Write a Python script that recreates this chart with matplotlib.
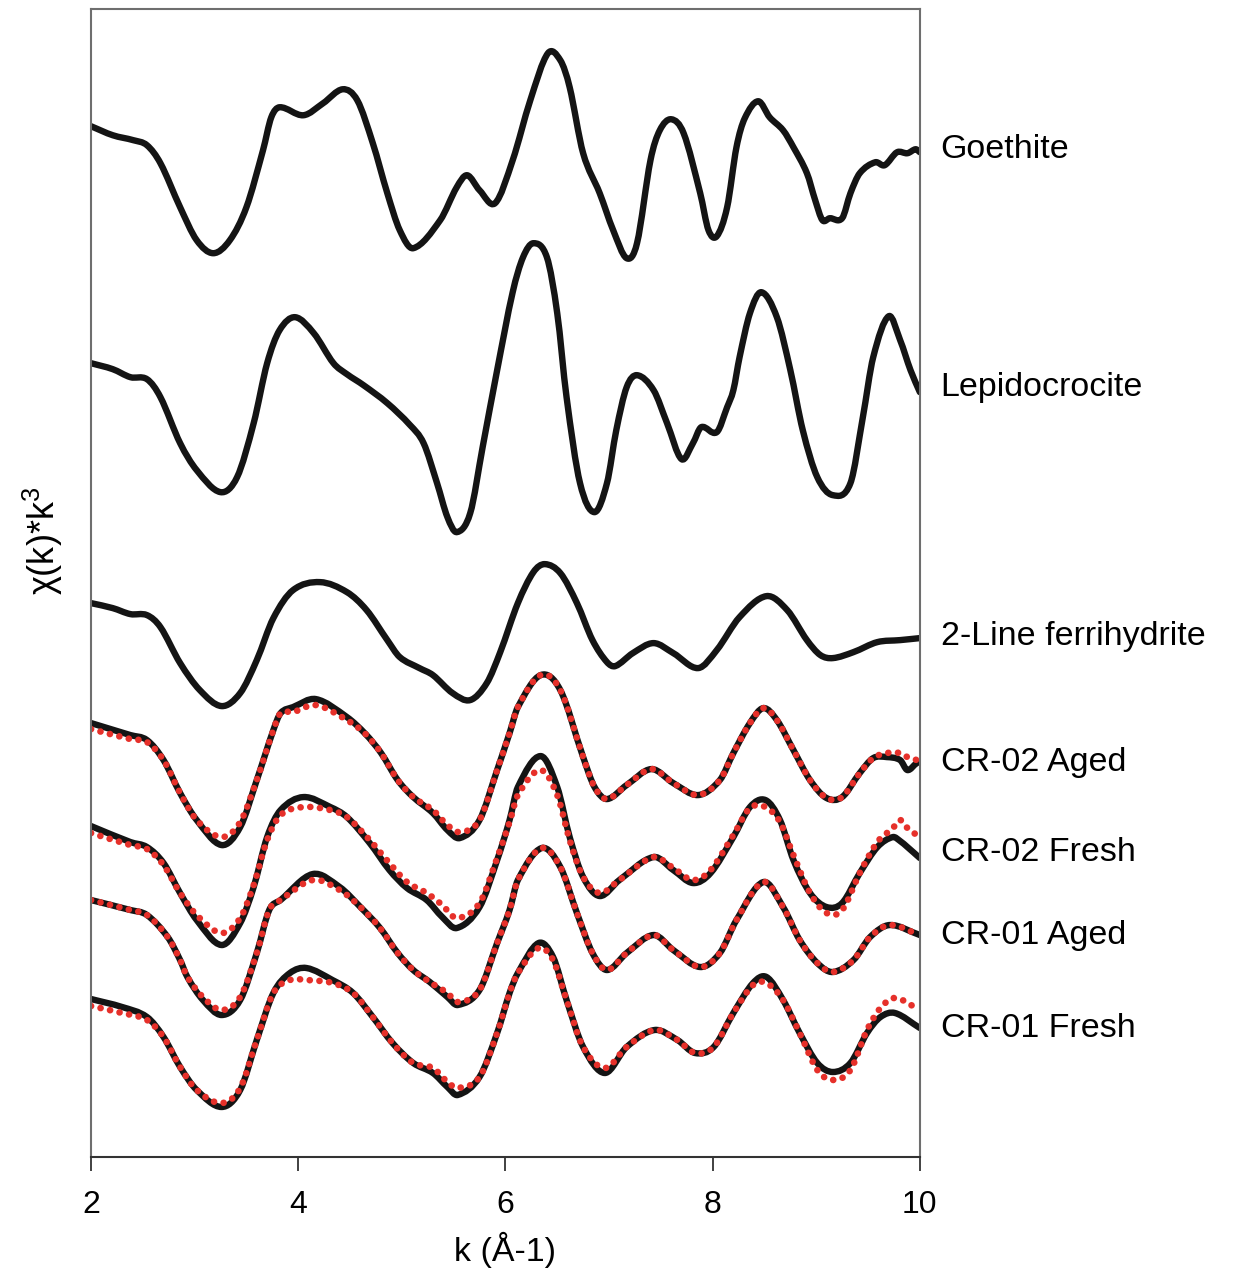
"""EXAFS chi(k)*k^3 spectra of Fe oxide references and CR samples with fits (stacked)."""

import matplotlib

matplotlib.use("Agg")
import matplotlib.pyplot as plt
from matplotlib.path import Path
from matplotlib.patches import PathPatch

plt.rcParams["font.family"] = ["Liberation Sans", "DejaVu Sans"]
plt.rcParams["mathtext.fontset"] = "custom"
plt.rcParams["mathtext.rm"] = "Liberation Sans"

# ── data (stacked chi(k)*k^3, arbitrary units with vertical offsets) ─────────

goethite_k = [2.00, 2.21, 2.41, 2.54, 2.67, 2.86, 3.02, 3.18, 3.34, 3.50, 3.66, 3.74,
              3.82, 4.05, 4.24, 4.43, 4.57, 4.72, 4.86, 4.98, 5.11, 5.37, 5.53, 5.63,
              5.75, 5.90, 6.07, 6.24, 6.41, 6.53, 6.62, 6.75, 6.91, 7.04, 7.17, 7.27,
              7.40, 7.49, 7.60, 7.72, 7.88, 7.96, 8.04, 8.14, 8.23, 8.31, 8.44, 8.55,
              8.68, 8.78, 8.91, 8.99, 9.06, 9.13, 9.25, 9.33, 9.42, 9.57, 9.66, 9.78,
              9.88, 9.96, 10.00]
goethite_y = [1031, 1022, 1017, 1012, 994, 950, 917, 904, 917, 950, 1007, 1040,
              1050, 1042, 1054, 1068, 1057, 1014, 964, 927, 909, 937, 970, 982,
              967, 954, 997, 1057, 1104, 1097, 1070, 1004, 964, 927, 899, 914,
              997, 1027, 1038, 1024, 964, 927, 921, 950, 1010, 1039, 1056, 1040,
              1027, 1010, 984, 957, 937, 939, 939, 964, 984, 995, 992, 1005,
              1004, 1008, 1005]

lepido_k = [2.00, 2.21, 2.38, 2.54, 2.67, 2.86, 3.02, 3.25, 3.41, 3.57, 3.70, 3.82,
            3.97, 4.15, 4.34, 4.47, 4.63, 4.86, 5.08, 5.21, 5.34, 5.44, 5.53, 5.66,
            5.78, 5.92, 6.07, 6.17, 6.27, 6.40, 6.50, 6.59, 6.72, 6.86, 6.98, 7.07,
            7.17, 7.27, 7.43, 7.56, 7.70, 7.81, 7.89, 8.04, 8.14, 8.20, 8.26, 8.36,
            8.47, 8.62, 8.75, 8.87, 9.01, 9.16, 9.33, 9.45, 9.55, 9.70, 9.81, 9.91,
            10.00]
lepido_y = [794, 788, 780, 778, 760, 714, 687, 665, 680, 734, 794, 827,
            840, 824, 794, 783, 772, 754, 732, 714, 674, 640, 625, 644,
            710, 787, 865, 900, 914, 900, 844, 760, 674, 645, 674, 727,
            770, 782, 767, 734, 698, 714, 730, 725, 750, 767, 800, 844,
            865, 840, 787, 727, 680, 662, 674, 740, 800, 841, 817, 787,
            765]

ferri_k = [2.00, 2.21, 2.38, 2.54, 2.67, 2.86, 3.05, 3.26, 3.44, 3.60, 3.76, 3.95,
           4.21, 4.47, 4.66, 4.86, 4.98, 5.17, 5.30, 5.49, 5.66, 5.82, 5.95, 6.12,
           6.27, 6.38, 6.53, 6.69, 6.84, 6.98, 7.06, 7.23, 7.43, 7.62, 7.86, 8.04,
           8.26, 8.52, 8.72, 8.91, 9.04, 9.16, 9.36, 9.59, 9.81, 10.00]
ferri_y = [554, 549, 543, 542, 530, 494, 467, 451, 464, 497, 539, 567,
           575, 565, 547, 517, 500, 489, 482, 464, 457, 474, 505, 554,
           585, 593, 584, 554, 517, 495, 491, 504, 514, 504, 489, 507,
           540, 561, 547, 517, 502, 499, 505, 515, 517, 519]

cr02a_k = [2.00, 2.38, 2.54, 2.70, 2.86, 3.02, 3.26, 3.44, 3.60, 3.76, 3.83, 3.95,
           4.17, 4.47, 4.65, 4.80, 4.96, 5.11, 5.30, 5.44, 5.56, 5.75, 5.92, 6.04,
           6.12, 6.34, 6.53, 6.75, 6.86, 6.98, 7.17, 7.41, 7.62, 7.86, 8.07, 8.20,
           8.36, 8.49, 8.62, 8.78, 8.94, 9.10, 9.25, 9.42, 9.55, 9.68, 9.81, 9.88,
           9.97, 10.00]
cr02a_data = [434, 422, 417, 397, 364, 337, 312, 330, 377, 427, 444, 450,
              458, 440, 423, 404, 377, 360, 344, 327, 319, 337, 387, 424,
              450, 482, 467, 400, 370, 358, 372, 388, 374, 362, 377, 404,
              434, 449, 437, 407, 377, 359, 360, 384, 399, 400, 397, 387,
              394, 395]
cr02a_fit = [428, 418, 415, 397, 364, 337, 320, 335, 377, 427, 444, 445,
             452, 437, 423, 404, 377, 360, 347, 332, 325, 337, 387, 424,
             450, 482, 467, 400, 370, 358, 372, 388, 374, 362, 377, 404,
             434, 449, 437, 407, 377, 359, 360, 384, 399, 404, 404, 400,
             397, 395]

cr02f_k = [2.00, 2.38, 2.54, 2.70, 2.86, 3.02, 3.26, 3.44, 3.57, 3.70, 3.83, 4.05,
           4.31, 4.47, 4.69, 4.88, 5.05, 5.24, 5.39, 5.53, 5.75, 5.92, 6.04, 6.12,
           6.34, 6.50, 6.62, 6.75, 6.91, 7.10, 7.43, 7.62, 7.81, 7.98, 8.20, 8.36,
           8.51, 8.65, 8.78, 8.94, 9.10, 9.25, 9.42, 9.59, 9.74, 9.81, 9.88, 10.00]
cr02f_data = [331, 315, 310, 294, 264, 237, 212, 234, 270, 320, 347, 360,
              350, 340, 314, 287, 269, 257, 240, 229, 250, 297, 337, 370,
              401, 370, 320, 280, 261, 277, 300, 287, 274, 284, 320, 350,
              357, 337, 297, 264, 250, 254, 284, 310, 320, 316, 310, 299]
cr02f_fit = [324, 312, 308, 292, 264, 242, 224, 239, 272, 317, 342, 350,
             347, 340, 317, 294, 275, 264, 252, 239, 254, 299, 335, 362,
             387, 362, 317, 280, 264, 277, 300, 289, 277, 287, 322, 349,
             350, 335, 302, 264, 244, 247, 284, 315, 329, 337, 329, 320]

cr01a_k = [2.00, 2.38, 2.54, 2.74, 2.86, 2.93, 3.08, 3.26, 3.44, 3.60, 3.72, 3.83,
           4.14, 4.40, 4.60, 4.79, 4.96, 5.11, 5.27, 5.44, 5.54, 5.75, 5.92, 6.04,
           6.12, 6.35, 6.53, 6.69, 6.84, 6.98, 7.17, 7.43, 7.62, 7.88, 8.07, 8.23,
           8.49, 8.68, 8.84, 9.01, 9.16, 9.36, 9.52, 9.71, 10.00]
cr01a_data = [257, 247, 242, 220, 197, 180, 157, 142, 157, 204, 247, 257,
              283, 270, 250, 229, 204, 187, 175, 160, 152, 167, 214, 247,
              277, 309, 290, 244, 204, 187, 204, 222, 207, 190, 204, 237,
              275, 250, 217, 194, 185, 197, 220, 232, 222]
cr01a_fit = [257, 247, 242, 220, 197, 180, 160, 147, 160, 204, 247, 257,
             277, 267, 250, 229, 204, 187, 175, 164, 155, 167, 214, 247,
             277, 309, 290, 244, 204, 187, 204, 222, 207, 190, 204, 237,
             275, 250, 217, 194, 185, 197, 220, 232, 222]

cr01f_k = [2.00, 2.30, 2.54, 2.70, 2.86, 3.02, 3.26, 3.44, 3.60, 3.76, 3.92, 4.08,
           4.33, 4.53, 4.72, 4.91, 5.11, 5.30, 5.44, 5.54, 5.75, 5.92, 6.04, 6.12,
           6.32, 6.46, 6.59, 6.75, 6.96, 7.17, 7.44, 7.66, 7.83, 8.01, 8.20, 8.39,
           8.52, 8.68, 8.84, 9.01, 9.16, 9.33, 9.49, 9.62, 9.76, 10.00]
cr01f_data = [158, 150, 140, 120, 90, 67, 50, 67, 117, 164, 184, 189,
              177, 164, 140, 114, 94, 84, 70, 62, 80, 124, 164, 184,
              214, 200, 157, 110, 84, 110, 127, 117, 104, 110, 144, 174,
              180, 157, 124, 94, 85, 94, 124, 140, 144, 129]
cr01f_fit = [151, 144, 137, 120, 90, 67, 54, 69, 117, 164, 177, 177,
             174, 164, 140, 114, 94, 89, 75, 69, 80, 124, 164, 184,
             209, 197, 157, 110, 89, 110, 127, 117, 104, 110, 144, 172,
             174, 157, 124, 87, 77, 87, 127, 149, 159, 147]

labels = ["Goethite", "Lepidocrocite", "2-Line ferrihydrite",
          "CR-02 Aged", "CR-02 Fresh", "CR-01 Aged", "CR-01 Fresh"]
label_y = [1008, 770, 521, 395, 305, 222, 129]

x_ticks = [2, 4, 6, 8, 10]

BLACK = "#141414"
RED = "#e6302a"
SPINE = "#6e6e6e"


def smooth_path(k, y):
    """Hermite-style Bezier path through the measured points (no new data)."""
    n = len(k)
    slopes = []
    for i in range(n):
        a, b = max(i - 1, 0), min(i + 1, n - 1)
        slopes.append((y[b] - y[a]) / (k[b] - k[a]))
    verts = [(k[0], y[0])]
    codes = [Path.MOVETO]
    for i in range(n - 1):
        h = (k[i + 1] - k[i]) / 3
        verts += [(k[i] + h, y[i] + slopes[i] * h),
                  (k[i + 1] - h, y[i + 1] - slopes[i + 1] * h),
                  (k[i + 1], y[i + 1])]
        codes += [Path.CURVE4] * 3
    return Path(verts, codes)


def draw_curve(ax, k, y, **kw):
    patch = PathPatch(smooth_path(k, y), fill=False, joinstyle="round",
                      capstyle="round", **kw)
    ax.add_patch(patch)


# ── plot ─────────────────────────────────────────────────────────────────────

fig = plt.figure(figsize=(12.52, 12.70), dpi=100)
ax = fig.add_axes([0.0727, 0.089, 0.662, 0.9037])

refs = [(goethite_k, goethite_y), (lepido_k, lepido_y), (ferri_k, ferri_y)]
for k, y in refs:
    draw_curve(ax, k, y, edgecolor=BLACK, linewidth=4.6)

samples = [(cr02a_k, cr02a_data, cr02a_fit), (cr02f_k, cr02f_data, cr02f_fit),
           (cr01a_k, cr01a_data, cr01a_fit), (cr01f_k, cr01f_data, cr01f_fit)]
for k, data, fit in samples:
    draw_curve(ax, k, data, edgecolor=BLACK, linewidth=4.6)
    draw_curve(ax, k, fit, edgecolor=RED, linewidth=4.8,
               linestyle=(0, (0.01, 1.45)))

for text, y in zip(labels, label_y):
    ax.text(10.2, y, text, fontsize=24.5, ha="left", va="center", clip_on=False)

ax.set_xlim(2, 10)
ax.set_ylim(0, 1148)
ax.set_xticks(x_ticks)
ax.set_yticks([])
ax.tick_params(axis="x", direction="out", length=10, width=1.3, labelsize=23,
               pad=14, color="#333333")
for side in ("top", "right", "left"):
    ax.spines[side].set_color(SPINE)
    ax.spines[side].set_linewidth(1.5)
ax.spines["bottom"].set_color("#333333")
ax.spines["bottom"].set_linewidth(1.5)

ax.set_xlabel("k (Å-1)", fontsize=24.5, labelpad=8)
ax.set_ylabel(r"χ(k)*k$^3$", fontsize=26)
ax.yaxis.set_label_coords(-0.031, 0.537)

fig.savefig("out.png", dpi=100)
